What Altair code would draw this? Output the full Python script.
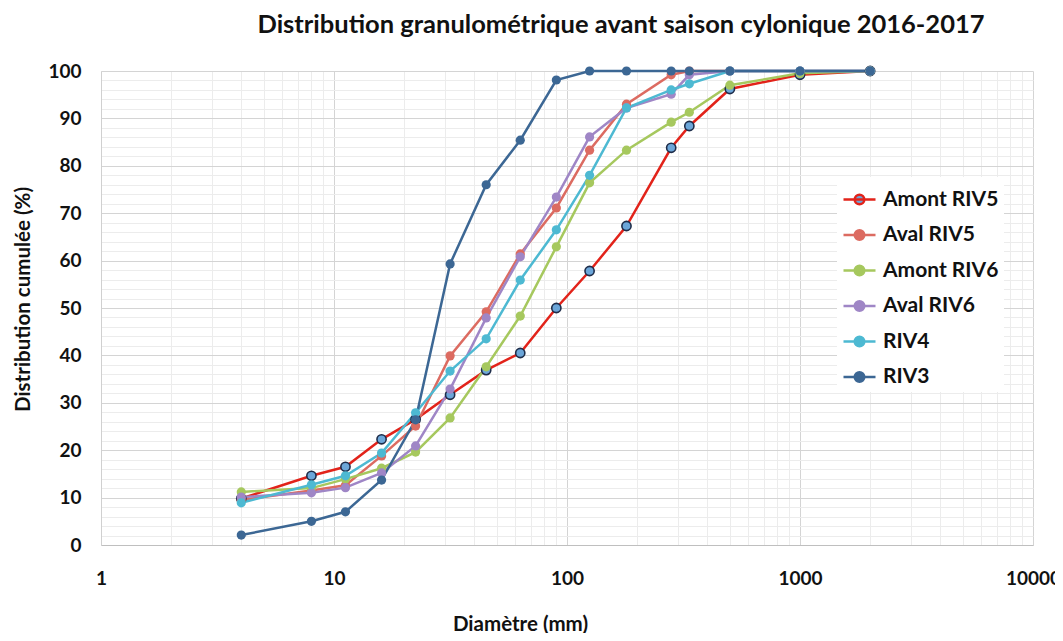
import altair as alt
import pandas as pd

diametres = [4, 8, 11.2, 16, 22.4, 31.5, 45, 63, 90, 125, 180, 280, 335, 500, 1000, 2000]

series_names = ["Amont RIV5", "Aval RIV5", "Amont RIV6", "Aval RIV6", "RIV4", "RIV3"]

amont_riv5 = [9.8, 14.6, 16.5, 22.3, 26.5, 31.7, 36.9, 40.5, 50.0, 57.8, 67.3, 83.8, 88.4, 96.2, 99.2, 100]
aval_riv5 = [9.5, 11.5, 12.6, 18.8, 25.1, 39.9, 49.2, 61.4, 71.1, 83.3, 93.0, 99.2, 100, 100, 100, 100]
amont_riv6 = [11.2, 12.0, 13.9, 16.2, 19.6, 26.8, 37.6, 48.3, 62.9, 76.4, 83.3, 89.2, 91.3, 97.0, 99.5, 100]
aval_riv6 = [10.1, 11.0, 12.1, 15.2, 20.9, 32.9, 47.9, 60.8, 73.4, 86.1, 92.2, 95.1, 99.2, 100, 100, 100]
riv4 = [8.9, 12.7, 14.6, 19.4, 27.9, 36.7, 43.5, 55.9, 66.5, 78.0, 92.2, 96.0, 97.3, 100, 100, 100]
riv3 = [2.1, 5.0, 7.0, 13.7, 26.4, 59.3, 76.0, 85.4, 98.1, 100, 100, 100, 100, 100, 100, 100]

line_colors = ["#E2231A", "#DC6B61", "#A6C85E", "#9F86C6", "#4DB9D2", "#3C6794"]
fill_colors = ["#6CA6D9", "#DC6B61", "#A6C85E", "#9F86C6", "#4DB9D2", "#3C6794"]
amont_riv5_outline = "#1E2D4A"

x_grid_values = [m * 10 ** e for e in range(0, 4) for m in range(1, 10)] + [10000]
y_grid_values = list(range(0, 101, 2))

all_values = [amont_riv5, aval_riv5, amont_riv6, aval_riv6, riv4, riv3]
rows = []
for name, vals in zip(series_names, all_values):
    for i, (d, v) in enumerate(zip(diametres, vals)):
        rows.append({"serie": name, "diametre": d, "cumul": v, "ordre": i})
df = pd.DataFrame(rows)

FONT = "Lato"
TXT = "#111111"

x_enc = alt.X(
    "diametre:Q",
    scale=alt.Scale(type="log", domain=[1, 10000], nice=False),
    axis=alt.Axis(
        title="Diamètre (mm)",
        values=x_grid_values,
        format="d",
        labelExpr="indexof([1,10,100,1000,10000], datum.value) >= 0 ? datum.label : ''",
        ticks=False,
        labelPadding=24,
        labelFont=FONT,
        labelFontSize=19,
        labelFontWeight="bold",
        labelColor=TXT,
        labelOverlap=False,
        labelFlush=False,
        titleFont=FONT,
        titleFontSize=20.5,
        titleFontWeight="bold",
        titleColor=TXT,
        titleX=419,
        titleY=79,
        titleBaseline="middle",
        domainColor="#BFBFBF",
        gridColor={"condition": {"test": "indexof([1,10,100,1000,10000], datum.value) >= 0", "value": "#D4D4D4"}, "value": "#ECECEC"},
        gridWidth=1,
    ),
)

y_enc = alt.Y(
    "cumul:Q",
    scale=alt.Scale(domain=[0, 100], nice=False),
    axis=alt.Axis(
        title="Distribution cumulée (%)",
        values=y_grid_values,
        labelExpr="datum.value % 10 == 0 ? datum.label : ''",
        ticks=False,
        labelPadding=20,
        labelFont=FONT,
        labelFontSize=19,
        labelFontWeight="bold",
        labelColor=TXT,
        labelOverlap=False,
        titleFont=FONT,
        titleFontSize=20.5,
        titleFontWeight="bold",
        titleColor=TXT,
        titleX=-78,
        titleY=228,
        titleBaseline="middle",
        titleAngle=270,
        domainColor="#D0D0D0",
        gridColor={"condition": {"test": "datum.value % 10 == 0", "value": "#D4D4D4"}, "value": "#ECECEC"},
        gridWidth=1,
    ),
)

legend = alt.Legend(
    title=None,
    orient="none",
    legendX=736,
    legendY=106,
    symbolType="M-1,0L1,0M-0.3,0A0.3,0.3,0,1,1,0.3,0A0.3,0.3,0,1,1,-0.3,0Z",
    symbolSize=1024,
    symbolStrokeWidth=2.5,
    labelFont=FONT,
    labelFontSize=21,
    labelFontWeight="bold",
    labelColor=TXT,
    labelOffset=6,
    rowPadding=7.5,
    padding=5,
    fillColor="white",
    labelLimit=300,
)

lines = alt.Chart(df).mark_line(strokeWidth=2.5).encode(
    x=x_enc,
    y=y_enc,
    order="ordre:Q",
    color=alt.Color("serie:N", scale=alt.Scale(domain=series_names, range=line_colors), legend=legend),
)

amont_points = alt.Chart(df).transform_filter(
    alt.datum.serie == series_names[0]
).mark_point(
    filled=True, size=85, opacity=1, shape="circle",
    fill=fill_colors[0], stroke=amont_riv5_outline, strokeWidth=1.6,
).encode(x=x_enc, y=y_enc)

other_points = alt.Chart(df).transform_filter(
    alt.datum.serie != series_names[0]
).mark_point(filled=True, size=85, opacity=1, shape="circle").encode(
    x=x_enc,
    y=y_enc,
    fill=alt.Fill("serie:N", scale=alt.Scale(domain=series_names, range=fill_colors), legend=legend),
)

chart = alt.layer(lines, amont_points, other_points).properties(
    width=932,
    height=474,
    autosize=alt.AutoSizeParams(type="none"),
    padding={"left": 93, "top": 63, "right": 22, "bottom": 88},
    title=alt.TitleParams(
        text="Distribution granulométrique avant saison cylonique 2016-2017",
        font=FONT,
        fontSize=25.5,
        fontWeight="bold",
        color=TXT,
        anchor="middle",
        frame="group",
        dx=54,
        offset=24,
    ),
).configure_view(stroke=None)

chart.save("out.html", embed_options={"renderer": "svg", "actions": False})
